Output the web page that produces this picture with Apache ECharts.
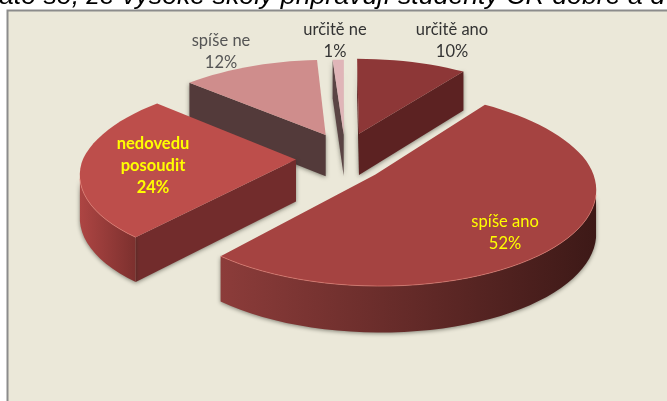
<!DOCTYPE html>
<html>
<head>
<meta charset="utf-8">
<style>
  html, body { margin: 0; padding: 0; background: #fff; overflow: hidden; }
  #chart { width: 667px; height: 401px; }
</style>
<script src="https://cdn.jsdelivr.net/npm/echarts@6/dist/echarts.min.js"></script>
</head>
<body>
<div id="chart"></div>
<script>
  var categories = ['určitě ano', 'spíše ano', 'nedovedu\nposoudit', 'spíše ne', 'určitě ne']
  var percents = [10, 52, 24, 12, 1]
  var titleText = 'ato so, že vysoké školy připravují studenty ČR dobře a d'

  // look of each slice, same order as categories
  var topColors = ['#8d3737', '#a54341', '#bd4e4b', '#cf8d8c', '#e0b5b8']
  var cutColors = ['#5c2222', '#5c2222', '#722c2c', '#533a3a', '#5a4444']
  var rimColors = [['#5c2222', '#5c2222'], ['#8c3c3a', '#3d1917'], ['#ad4543', '#7c302e'], ['#533a3a', '#533a3a'], ['#5a4444', '#5a4444']]
  var labelColors = ['#333', '#ffff00', '#ffff00', '#555', '#333']
  var labelWeights = ['normal', 'normal', 'bold', 'normal', 'normal']
  var labelSpots = [[452, 41], [505, 233], [153, 166], [221, 52], [335, 41]]
  var explode = [0.22, 0.185, 0.23, 0.22, 0.2]
  var drawOrder = [3, 4, 0, 2, 1] // back slices first

  // projection of the pie plane
  var cx = 345, cy = 159, radius = 213, squash = 0.43, persp = 0.137, perspBackX = 0.16, thick = 42
  var liftBack = 1.37 // slices move further front/back than sideways
  var warp = 2.9 * Math.PI / 180 // camera squeezes the front angles a bit
  var TOTAL = percents.reduce(function (a, b) { return a + b }, 0)

  function project(u, v) {
    var p = 1 / (1 + persp * v)
    var px = v > 0 ? 1 / (1 + perspBackX * v) : p
    return [cx + radius * u * px, cy - radius * squash * v * p]
  }
  function down(pt) {
    var p = 1 + (pt[1] - cy) / 1200
    return [pt[0], pt[1] + thick * p]
  }

  function renderSlice(params, api) {
    var idx = params.dataIndex
    var before = 0
    for (var i = 0; i < idx; i++) before += percents[i]
    var share = api.value(0) / TOTAL
    var a0 = before / TOTAL * Math.PI * 2
    var a1 = a0 + share * Math.PI * 2
    var mid = (a0 + a1) / 2
    var ou = Math.sin(mid) * explode[idx], ov = Math.cos(mid) * explode[idx] * liftBack

    var apex = project(ou, ov)
    var rim = []
    var steps = Math.max(3, Math.round(share * 120))
    for (var s = 0; s <= steps; s++) {
      var a = a0 + (a1 - a0) * s / steps
      a -= warp * (1 - Math.cos(a))
      rim.push(project(ou + Math.sin(a), ov + Math.cos(a)))
    }
    var first = rim[0], last = rim[rim.length - 1]
    var z = drawOrder.indexOf(idx) * 10
    var children = []
    var shadow = { shadowColor: 'rgba(40,40,30,0.55)', shadowBlur: 4, shadowOffsetY: 1 }

    function quad(a, b, fill) {
      return {
        type: 'polygon', z2: z + 1,
        shape: { points: [a, b, down(b), down(a)] },
        style: Object.assign({ fill: fill }, shadow)
      }
    }
    // a side shows when the outline runs leftwards (outline is clockwise)
    if (first[0] < apex[0]) children.push(quad(apex, first, cutColors[idx]))
    if (apex[0] < last[0]) children.push(quad(last, apex, cutColors[idx]))

    var front = rim.filter(function (pt, i) {
      var nx = rim[i + 1] || pt, pv = rim[i - 1] || pt
      return nx[0] < pv[0]
    })
    if (front.length > 1) {
      var low = front.slice().reverse().map(down)
      children.push({
        type: 'polygon', z2: z + 2,
        shape: { points: front.concat(low) },
        style: Object.assign({
          fill: new echarts.graphic.LinearGradient(1, 0, 0, 0, [
            { offset: 0, color: rimColors[idx][1] },
            { offset: 1, color: rimColors[idx][0] }
          ])
        }, shadow)
      })
    }
    children.push({
      type: 'polygon', z2: z + 3,
      shape: { points: [apex].concat(rim) },
      style: { fill: topColors[idx] }
    })
    if (front.length > 1) {
      children.push({
        type: 'polyline', z2: z + 4,
        shape: { points: front },
        style: { fill: null, stroke: 'rgba(240,140,130,0.55)', lineWidth: 1 }
      })
    }
    children.push({
      type: 'text', z2: 200,
      style: {
        text: categories[idx] + '\n' + percents[idx] + '%',
        x: labelSpots[idx][0], y: labelSpots[idx][1],
        align: 'center', verticalAlign: 'middle',
        font: labelWeights[idx] + ' 16.5px Lato',
        lineHeight: 22,
        fill: labelColors[idx]
      }
    })
    return { type: 'group', children: children }
  }

  var chart = echarts.init(document.getElementById('chart'))
  chart.setOption({
    animation: false,
    backgroundColor: '#fff',
    graphic: [
      {
        type: 'rect', silent: true, z: -1,
        shape: { x: 7.5, y: 10.5, width: 700, height: 500 },
        style: { fill: '#ebe8d9', stroke: '#8c8c8c', lineWidth: 2 }
      },
      {
        type: 'text', silent: true, z: 5,
        style: { text: titleText, x: -1, y: 10, verticalAlign: 'bottom', font: 'italic 26.7px "Liberation Sans"', fill: '#000' }
      }
    ],
    series: [{
      type: 'custom',
      coordinateSystem: 'none',
      clip: false,
      data: percents.map(function (v, i) { return { name: categories[i], value: [v] } }),
      renderItem: renderSlice
    }]
  })
</script>
</body>
</html>
